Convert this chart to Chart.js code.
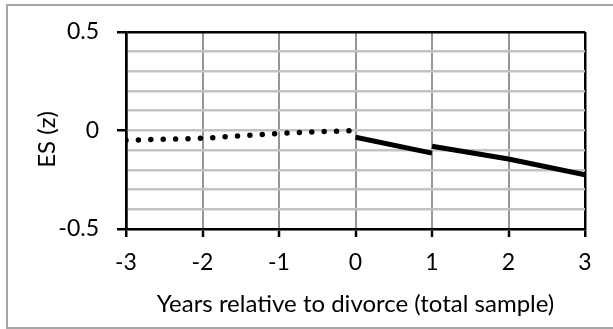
<!DOCTYPE html>
<html>
<head>
<meta charset="utf-8">
<script src="https://cdn.jsdelivr.net/npm/chart.js@4.4.1/dist/chart.umd.min.js"></script>
<style>
  html, body { margin: 0; padding: 0; background: #fff; overflow: hidden; }
  #frame { position: absolute; left: 6px; top: 4px; width: 700px; height: 321px; border: 2px solid #a6a6a6; }
  #grapharea { position: absolute; left: 0; top: 0; }
</style>
</head>
<body>
<div id="frame"></div>
<canvas id="grapharea" width="613" height="329"></canvas>
<script>
// effect sizes around divorce, years -3..3
const yearsBefore = [-3, -2, -1, 0];
const esBefore = [-0.05, -0.04, -0.015, 0];
const yearsFirst = [0, 1];
const esFirst = [-0.035, -0.115];
const yearsAfter = [1, 2, 3];
const esAfter = [-0.08, -0.145, -0.225];
const xTicks = [-3, -2, -1, 0, 1, 2, 3];
const yLabelled = [-0.5, 0, 0.5];

function toPoints(xs, ys){
    return xs.map((x, i) => ({x: x, y: ys[i]}));
}

function isLabelled(v){
    return yLabelled.some(t => Math.abs(t - v) < 1e-9);
}

const textFont = {family: 'Lato', size: 23};
const titleFont = {family: 'Lato', size: 24};

function drawChart(){
    let CurrencyChart = new Chart(document.getElementById('grapharea'), {
        type: 'line',
        data: {
            datasets: [{
                data: toPoints(yearsBefore, esBefore),
                borderColor: '#000',
                borderWidth: 5.5,
                borderDash: [0, 12.4],
                borderCapStyle: 'round',
                pointRadius: 0,
                tension: 0
            }, {
                data: toPoints(yearsFirst, esFirst),
                borderColor: '#000',
                borderWidth: 5,
                pointRadius: 0
            }, {
                data: toPoints(yearsAfter, esAfter),
                borderColor: '#000',
                borderWidth: 5,
                pointRadius: 0
            }]
        },
        options: {
            responsive: false,
            animation: false,
            layout: { padding: { left: 0, right: 28, top: 26, bottom: 0 } },
            plugins: { legend: { display: false }, tooltip: { enabled: false } },
            scales: {
                x: {
                    type: 'linear',
                    min: -3,
                    max: 3,
                    afterBuildTicks: scale => { scale.ticks = xTicks.map(v => ({value: v})); },
                    afterFit: scale => { scale.height = 100; },
                    grid: {
                        color: ctx => (ctx.tick && Math.abs(ctx.tick.value) === 3) ? '#000' : '#969696',
                        lineWidth: ctx => (ctx.tick && Math.abs(ctx.tick.value) === 3) ? 2.5 : 2,
                        tickColor: '#000',
                        tickWidth: 2.5,
                        tickLength: 8
                    },
                    border: { color: '#000', width: 2.5 },
                    ticks: { color: '#000', font: textFont, padding: 12, maxRotation: 0, autoSkip: false },
                    title: {
                        display: true,
                        text: 'Years relative to divorce (total sample)',
                        color: '#000',
                        font: titleFont,
                        padding: { top: 0, bottom: 10 }
                    }
                },
                y: {
                    min: -0.5,
                    max: 0.5,
                    ticks: {
                        stepSize: 0.1,
                        autoSkip: false,
                        color: '#000',
                        font: textFont,
                        padding: 18,
                        callback: v => isLabelled(v) ? String(Math.round(v * 10) / 10) : ''
                    },
                    afterFit: scale => { scale.width = 126; },
                    grid: {
                        color: ctx => (ctx.tick && Math.abs(ctx.tick.value - 0.5) < 1e-9) ? '#000' : '#c3c3c3',
                        lineWidth: 2.5,
                        tickColor: ctx => (ctx.tick && isLabelled(ctx.tick.value)) ? '#000' : 'rgba(0,0,0,0)',
                        tickWidth: 2.5,
                        tickLength: 9
                    },
                    border: { color: '#000', width: 2.5 },
                    title: {
                        display: true,
                        text: 'ES (z)\u2003',
                        color: '#000',
                        font: titleFont,
                        padding: { top: 33, bottom: 0 }
                    }
                }
            }
        }
    });
}

document.fonts.load('24px Lato').then(drawChart, drawChart);
</script>
</body>
</html>
